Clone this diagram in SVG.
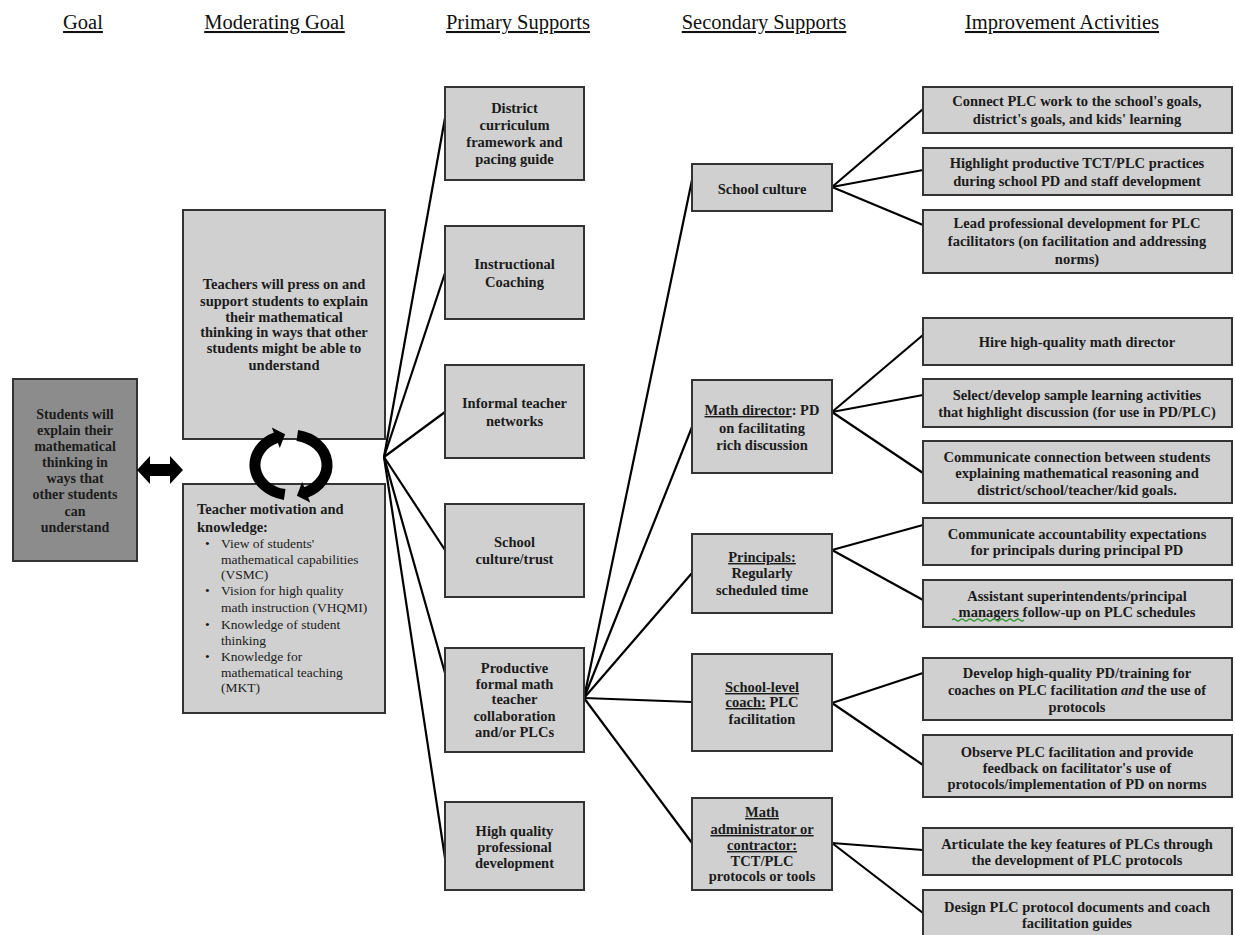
<svg xmlns="http://www.w3.org/2000/svg" width="1235" height="935" viewBox="0 0 1235 935">
<style>
.hd{font-family:"Liberation Serif","Times New Roman",serif;font-size:20.5px;fill:#111;text-anchor:middle;text-decoration:underline}
.box{fill:#d0d0d0;stroke:#333;stroke-width:2}
.goal{fill:#8c8c8c;stroke:#333;stroke-width:2}
.t{font-family:"Liberation Serif","Times New Roman",serif;font-size:14.5px;font-weight:bold;fill:#1b1b1b;text-anchor:middle}
.r{font-family:"Liberation Serif","Times New Roman",serif;font-size:13.5px;fill:#1b1b1b}
.u{text-decoration:underline}
.c line{stroke:#000;stroke-width:2.2}
</style>
<rect width="1235" height="935" fill="#fff"/>
<g id="headers">
<text class="hd" x="83" y="29">Goal</text>
<text class="hd" x="274.5" y="29">Moderating Goal</text>
<text class="hd" x="518" y="29">Primary Supports</text>
<text class="hd" x="764" y="29">Secondary Supports</text>
<text class="hd" x="1062" y="29">Improvement Activities</text>
</g>
<g class="c" id="connectors">
<line x1="384" y1="457" x2="445" y2="118"/>
<line x1="384" y1="457" x2="445" y2="273"/>
<line x1="384" y1="457" x2="445" y2="412"/>
<line x1="384" y1="457" x2="445" y2="550"/>
<line x1="384" y1="457" x2="445" y2="673"/>
<line x1="384" y1="457" x2="445" y2="858"/>
<line x1="584" y1="698" x2="692" y2="180"/>
<line x1="584" y1="698" x2="692" y2="427"/>
<line x1="584" y1="698" x2="692" y2="573"/>
<line x1="584" y1="698" x2="692" y2="702"/>
<line x1="584" y1="698" x2="692" y2="843"/>
<line x1="832" y1="187" x2="923" y2="109"/>
<line x1="832" y1="187" x2="923" y2="170"/>
<line x1="832" y1="187" x2="923" y2="225"/>
<line x1="832" y1="412" x2="923" y2="335"/>
<line x1="832" y1="412" x2="923" y2="395"/>
<line x1="832" y1="412" x2="923" y2="473"/>
<line x1="832" y1="550" x2="923" y2="525"/>
<line x1="832" y1="550" x2="923" y2="600"/>
<line x1="832" y1="703" x2="923" y2="673"/>
<line x1="832" y1="703" x2="923" y2="765"/>
<line x1="832" y1="843" x2="923" y2="850"/>
<line x1="832" y1="843" x2="923" y2="913"/>
</g>
<g id="goal">
<rect class="goal" x="13" y="379" width="124" height="182"/>
<text class="t" style="font-size:14px" x="75"><tspan x="75" y="419">Students will</tspan><tspan x="75" y="435">explain their</tspan><tspan x="75" y="451">mathematical</tspan><tspan x="75" y="467">thinking in</tspan><tspan x="75" y="483">ways that</tspan><tspan x="75" y="499">other students</tspan><tspan x="75" y="516">can</tspan><tspan x="75" y="532">understand</tspan></text>
</g>
<g id="double-arrow">
<polygon points="137,470 150,456 150,464 170,464 170,456 183,470 170,484 170,476 150,476 150,484" fill="#000"/>
</g>
<g id="mod-top">
<rect class="box" x="183" y="210" width="202" height="229"/>
<text class="t"><tspan x="284" y="289">Teachers will press on and</tspan><tspan x="284" y="306">support students to explain</tspan><tspan x="284" y="322">their mathematical</tspan><tspan x="284" y="337">thinking in ways that other</tspan><tspan x="284" y="353">students might be able to</tspan><tspan x="284" y="370">understand</tspan></text>
</g>
<g id="mod-bottom">
<rect class="box" x="183" y="484" width="202" height="229"/>
<text class="t" style="text-anchor:start"><tspan x="197" y="514">Teacher motivation and</tspan><tspan x="197" y="532">knowledge:</tspan></text>
<text class="r"><tspan x="205" y="548">•</tspan><tspan x="205" y="595">•</tspan><tspan x="205" y="629">•</tspan><tspan x="205" y="661">•</tspan></text>
<text class="r"><tspan x="221" y="548">View of students'</tspan><tspan x="221" y="564">mathematical capabilities</tspan><tspan x="221" y="579">(VSMC)</tspan><tspan x="221" y="595">Vision for high quality</tspan><tspan x="221" y="612">math instruction (VHQMI)</tspan><tspan x="221" y="629">Knowledge of student</tspan><tspan x="221" y="645">thinking</tspan><tspan x="221" y="661">Knowledge for</tspan><tspan x="221" y="677">mathematical teaching</tspan><tspan x="221" y="692">(MKT)</tspan></text>
</g>
<g id="cycle" fill="none" stroke="#000" stroke-width="11">
<path d="M284.7,494.5 A36,30 0 0 1 277,437.3"/>
<path d="M297.3,435.5 A36,30 0 0 1 305,492.7"/>
<polygon points="285.1,434.2 271.8,427.5 279.8,448.1" fill="#000" stroke="none"/>
<polygon points="296.9,495.8 310.2,502.5 302.2,481.9" fill="#000" stroke="none"/>
</g>
<g id="p-district">
<rect class="box" x="445" y="87" width="139" height="93"/>
<text class="t"><tspan x="514.5" y="113">District</tspan><tspan x="514.5" y="130">curriculum</tspan><tspan x="514.5" y="147">framework and</tspan><tspan x="514.5" y="164">pacing guide</tspan></text>
</g>
<g id="p-coaching">
<rect class="box" x="445" y="226" width="139" height="93"/>
<text class="t"><tspan x="514.5" y="269">Instructional</tspan><tspan x="514.5" y="287">Coaching</tspan></text>
</g>
<g id="p-informal">
<rect class="box" x="445" y="365" width="139" height="93"/>
<text class="t"><tspan x="514.5" y="408">Informal teacher</tspan><tspan x="514.5" y="426">networks</tspan></text>
</g>
<g id="p-culture">
<rect class="box" x="445" y="504" width="139" height="93"/>
<text class="t"><tspan x="514.5" y="547">School</tspan><tspan x="514.5" y="564">culture/trust</tspan></text>
</g>
<g id="p-plc">
<rect class="box" x="445" y="648" width="139" height="104"/>
<text class="t"><tspan x="514.5" y="673">Productive</tspan><tspan x="514.5" y="689">formal math</tspan><tspan x="514.5" y="704">teacher</tspan><tspan x="514.5" y="721">collaboration</tspan><tspan x="514.5" y="737">and/or PLCs</tspan></text>
</g>
<g id="p-pd">
<rect class="box" x="445" y="802" width="139" height="88"/>
<text class="t"><tspan x="514.5" y="836">High quality</tspan><tspan x="514.5" y="852">professional</tspan><tspan x="514.5" y="868">development</tspan></text>
</g>
<g id="s-culture">
<rect class="box" x="692" y="164" width="140" height="47"/>
<text class="t" x="762" y="194">School culture</text>
</g>
<g id="s-director">
<rect class="box" x="692" y="380" width="140" height="93"/>
<text class="t"><tspan x="762" y="415"><tspan class="u">Math director</tspan>: PD</tspan><tspan x="762" y="433">on facilitating</tspan><tspan x="762" y="450">rich discussion</tspan></text>
</g>
<g id="s-principals">
<rect class="box" x="692" y="534" width="140" height="79"/>
<text class="t"><tspan x="762" y="562" class="u">Principals:</tspan><tspan x="762" y="578">Regularly</tspan><tspan x="762" y="595">scheduled time</tspan></text>
</g>
<g id="s-coach">
<rect class="box" x="692" y="654" width="140" height="97"/>
<text class="t"><tspan x="762" y="692" class="u">School-level</tspan><tspan x="762" y="707"><tspan class="u">coach:</tspan> PLC</tspan><tspan x="762" y="724">facilitation</tspan></text>
</g>
<g id="s-admin">
<rect class="box" x="692" y="798" width="140" height="92"/>
<text class="t"><tspan x="762" y="817" class="u">Math</tspan><tspan x="762" y="834" class="u">administrator or</tspan><tspan x="762" y="850" class="u">contractor:</tspan><tspan x="762" y="866">TCT/PLC</tspan><tspan x="762" y="881">protocols or tools</tspan></text>
</g>
<g id="a1">
<rect class="box" x="923" y="87" width="309" height="46"/>
<text class="t"><tspan x="1077" y="106">Connect PLC work to the school's goals,</tspan><tspan x="1077" y="124">district's goals, and kids' learning</tspan></text>
</g>
<g id="a2">
<rect class="box" x="923" y="148" width="309" height="47"/>
<text class="t"><tspan x="1077" y="168">Highlight productive TCT/PLC practices</tspan><tspan x="1077" y="186">during school PD and staff development</tspan></text>
</g>
<g id="a3">
<rect class="box" x="923" y="210" width="309" height="63"/>
<text class="t"><tspan x="1077" y="228">Lead professional development for PLC</tspan><tspan x="1077" y="246">facilitators (on facilitation and addressing</tspan><tspan x="1077" y="264">norms)</tspan></text>
</g>
<g id="a4">
<rect class="box" x="923" y="318" width="309" height="47"/>
<text class="t" x="1077" y="347">Hire high-quality math director</text>
</g>
<g id="a5">
<rect class="box" x="923" y="379" width="309" height="48"/>
<text class="t"><tspan x="1077" y="400">Select/develop sample learning activities</tspan><tspan x="1077" y="417">that highlight discussion (for use in PD/PLC)</tspan></text>
</g>
<g id="a6">
<rect class="box" x="923" y="441" width="309" height="62"/>
<text class="t"><tspan x="1077" y="462">Communicate connection between students</tspan><tspan x="1077" y="478">explaining mathematical reasoning and</tspan><tspan x="1077" y="495">district/school/teacher/kid goals.</tspan></text>
</g>
<g id="a7">
<rect class="box" x="923" y="518" width="309" height="47"/>
<text class="t"><tspan x="1077" y="539">Communicate accountability expectations</tspan><tspan x="1077" y="555">for principals during principal PD</tspan></text>
</g>
<g id="a8">
<rect class="box" x="923" y="580" width="309" height="47"/>
<text class="t"><tspan x="1077" y="601">Assistant superintendents/principal</tspan><tspan x="1077" y="617">managers follow-up on PLC schedules</tspan></text>
<path d="M952,620 q2,-2 4,0 t4,0 t4,0 t4,0 t4,0 t4,0 t4,0 t4,0 t4,0 t4,0 t4,0 t4,0 t4,0 t4,0 t4,0 t4,0 t4,0 t4,0" fill="none" stroke="#3a9a3a" stroke-width="1.2"/>
</g>
<g id="a9">
<rect class="box" x="923" y="658" width="309" height="62"/>
<text class="t"><tspan x="1077" y="678">Develop high-quality PD/training for</tspan><tspan x="1077" y="695">coaches on PLC facilitation <tspan font-style="italic">and</tspan> the use of</tspan><tspan x="1077" y="712">protocols</tspan></text>
</g>
<g id="a10">
<rect class="box" x="923" y="735" width="309" height="62"/>
<text class="t"><tspan x="1077" y="757">Observe PLC facilitation and provide</tspan><tspan x="1077" y="773">feedback on facilitator's use of</tspan><tspan x="1077" y="789">protocols/implementation of PD on norms</tspan></text>
</g>
<g id="a11">
<rect class="box" x="923" y="828" width="309" height="47"/>
<text class="t"><tspan x="1077" y="849">Articulate the key features of PLCs through</tspan><tspan x="1077" y="865">the development of PLC protocols</tspan></text>
</g>
<g id="a12">
<rect class="box" x="923" y="890" width="309" height="47"/>
<text class="t"><tspan x="1077" y="912">Design PLC protocol documents and coach</tspan><tspan x="1077" y="928">facilitation guides</tspan></text>
</g>
</svg>
